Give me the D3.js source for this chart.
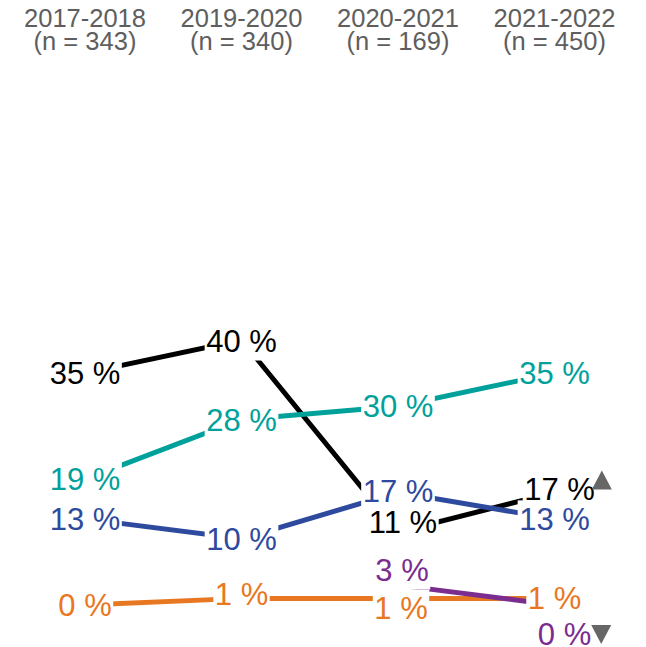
<!DOCTYPE html>
<html>
<head>
<meta charset="utf-8">
<script src="https://cdn.jsdelivr.net/npm/d3@7/dist/d3.min.js"></script>
<style>
  html, body { margin: 0; padding: 0; background: #fff; }
  svg { display: block; font-family: "Liberation Sans", Arial, Helvetica, sans-serif; }
</style>
</head>
<body>
<svg id="chart" width="646" height="647"></svg>
<script>
// ---- data ----
const periods = ["2017-2018", "2019-2020", "2020-2021", "2021-2022"];
const sampleSizes = [343, 340, 169, 450];
const seriesKeys = ["black", "teal", "blue", "orange", "purple"];
const blackValues  = [35, 40, 11, 17];
const tealValues   = [19, 28, 30, 35];
const blueValues   = [13, 10, 17, 13];
const orangeValues = [0, 1, 1, 1];
const purpleValues = [null, null, 3, 0];
const blackSignificance  = [null, null, null, "up"];
const purpleSignificance = [null, null, null, "down"];

// ---- styling / layout (not data) ----
const colors = { black: "#000000", teal: "#00a19b", blue: "#2e4a9e", orange: "#e87722", purple: "#7b2d8f" };
// label repel offsets [dx, dy] in px
const labelNudge = {
  black:  [[0, 0], [0, 1], [5, -10], [5, -3]],
  teal:   [[0, 0], [0, 0], [0, 0], [0, 0]],
  blue:   [[0, 0], [0, 0], [0, -1], [0, 0]],
  orange: [[0, 0], [0, -4], [3, 10], [0, 0]],
  purple: [[0, 0], [0, 0], [4, -15], [10, 29]]
};

const seriesValues = { black: blackValues, teal: tealValues, blue: blueValues, orange: orangeValues, purple: purpleValues };
const seriesSig = { black: blackSignificance, purple: purpleSignificance };

const svg = d3.select("#chart");
const x = d3.scalePoint().domain(periods).range([85, 554.5]);
const y = d3.scaleLinear().domain([0, 40]).range([605, 340]);
const fontSize = 31;

// header
const header = svg.append("g").attr("fill", "#5e5e5e").attr("font-size", 25.5).attr("text-anchor", "middle");
periods.forEach((p, i) => {
  const t = header.append("text").attr("x", x(p));
  t.append("tspan").attr("x", x(p)).attr("y", 27).text(p);
  t.append("tspan").attr("x", x(p)).attr("y", 49.5).text(`(n = ${sampleSizes[i]})`);
});

// lines
const line = d3.line()
  .defined(d => d.v != null)
  .x(d => x(d.p))
  .y(d => y(d.v));

seriesKeys.forEach(k => {
  const pts = periods.map((p, i) => ({ p, v: seriesValues[k][i] }));
  svg.append("path")
    .datum(pts)
    .attr("d", line)
    .attr("fill", "none")
    .attr("stroke", colors[k])
    .attr("stroke-width", 5);
});

// labels with white backgrounds
seriesKeys.forEach(k => {
  periods.forEach((p, i) => {
    const v = seriesValues[k][i];
    if (v == null) return;
    const [dx, dy] = labelNudge[k][i];
    const cx = x(p) + dx;
    const cy = y(v) + dy;
    const g = svg.append("g");
    const rect = g.append("rect").attr("fill", "#fff");
    const t = g.append("text")
      .attr("x", cx)
      .attr("y", cy + 0.355 * fontSize)
      .attr("text-anchor", "middle")
      .attr("font-size", fontSize)
      .attr("fill", colors[k])
      .text(`${v} %`);
    const bb = t.node().getBBox();
    const pad = 1.5;
    rect.attr("x", bb.x - pad).attr("y", bb.y - pad)
      .attr("width", bb.width + 2 * pad).attr("height", bb.height + 2 * pad);

    const sig = seriesSig[k] ? seriesSig[k][i] : null;
    if (sig) {
      const left = bb.x + bb.width - (sig === "up" ? 3 : 0);
      const w = 20;
      let top, bot, pts;
      if (sig === "up") {
        top = cy - 19; bot = cy;
        pts = [[left, bot], [left + w, bot], [left + w / 2, top]];
      } else {
        top = cy - 9; bot = cy + 10;
        pts = [[left, top], [left + w, top], [left + w / 2, bot]];
      }
      svg.append("path")
        .attr("d", "M" + pts.map(q => q.join(",")).join("L") + "Z")
        .attr("fill", "#666666");
    }
  });
});
</script>
</body>
</html>
